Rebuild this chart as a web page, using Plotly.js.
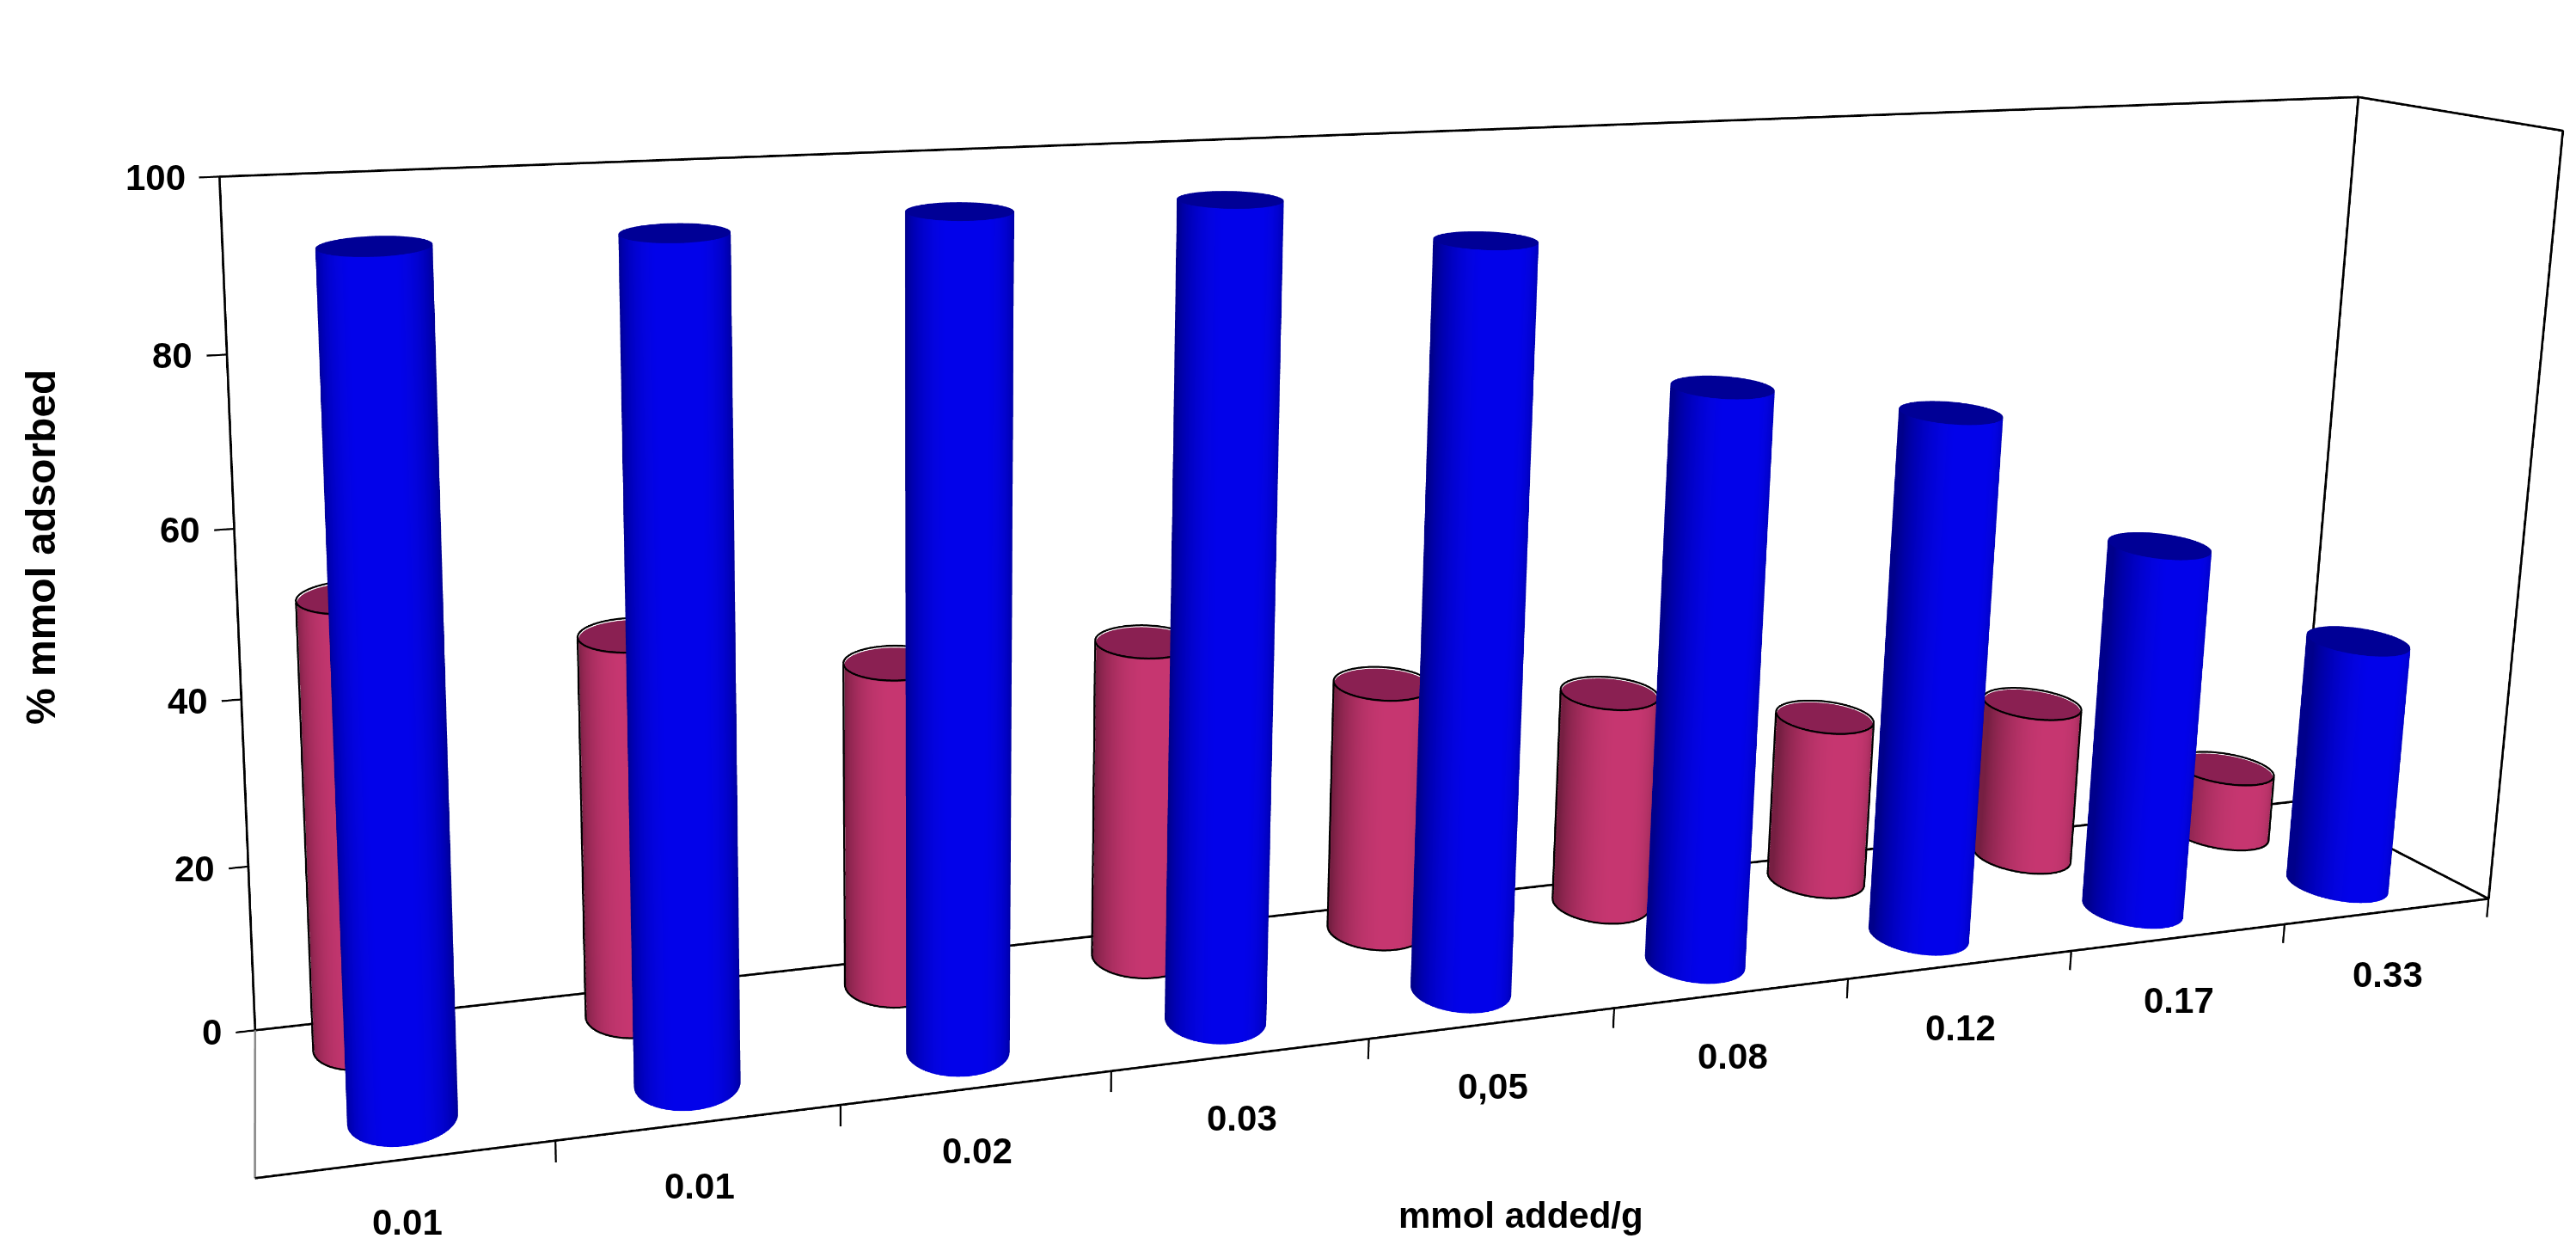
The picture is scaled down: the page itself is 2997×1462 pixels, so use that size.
<!DOCTYPE html>
<html>
<head>
<meta charset="utf-8">
<script src="https://cdn.plot.ly/plotly-3.0.1.min.js"></script>
<style>
  html, body { margin: 0; padding: 0; background: #fff; }
  #wrap { position: relative; width: 2997px; height: 1462px; overflow: hidden; }
  #plot { position: absolute; }
</style>
</head>
<body>
<div id="wrap"><div id="plot"></div></div>
<script>
// values
var categories = ['0.01', '0.01', '0.02', '0.03', '0,05', '0.08', '0.12', '0.17', '0.33'];
var backRow  = [53, 46, 40, 40, 32, 28, 22, 21, 9];    // pink cylinders (back row)
var frontRow = [96, 96, 97, 97, 91, 72, 67, 48, 33];   // blue cylinders (front row)
var zTicks = [0, 20, 40, 60, 80, 100];

var FONT = 'Liberation Sans, Arial, sans-serif';

// plotly's 3d camera has a fixed 45deg field of view, so the scene is drawn
// on a bigger div and cropped (a shifted lens): flatter, excel-like perspective.
// kept under 4096px wide / ~10Mpx, bigger canvases get clamped
var divW = 3900, divH = 2550;
var PP = {x: 1076, y: 192};          // view centre in window px
var divL = Math.round(PP.x - divW / 2), divT = Math.round(PP.y - divH / 2);
var plotDiv = document.getElementById('plot');
plotDiv.style.width = divW + 'px'; plotDiv.style.height = divH + 'px';
plotDiv.style.left = divL + 'px'; plotDiv.style.top = divT + 'px';
var FOCAL = (divH / 2) / Math.tan(Math.PI / 8);

var NSEG = 48;
var BOX = {x: [0, 9], y: [0, 1], z: [0, 100]};
var REAL = {x: 2.99, y: 0.354, z: 1.07};        // box size in scene units
var XR = [-0.12, 9.05], YR = [-0.03, 1.03], ZR = [-5, 101];
function asp(r, b, real) { return real * (r[1] - r[0]) / (b[1] - b[0]); }
function norm(v, r, b, real) { return (v - (r[0] + r[1]) / 2) * real / (b[1] - b[0]); }
var ASP = {x: asp(XR, BOX.x, REAL.x), y: asp(YR, BOX.y, REAL.y), z: asp(ZR, BOX.z, REAL.z)};

var RX = 0.19;
var RY = RX * (REAL.x / 9) / REAL.y;
var Y_BACK = 0.8, Y_FRONT = 0.26, X_BACK_SHIFT = -0.1;

// camera: yaw/pitch of the view axis, box centre placed at BOXPOS in the window
var YAW = 14 * Math.PI / 180, PITCH = 8.9 * Math.PI / 180, DIST = 3.38;
var BOXPOS = {x: 1681, y: 659};
var fwd = {x: Math.sin(YAW) * Math.cos(PITCH), y: Math.cos(YAW) * Math.cos(PITCH), z: -Math.sin(PITCH)};
var rgt = {x: Math.cos(YAW), y: -Math.sin(YAW), z: 0};
var upv = {x: Math.sin(YAW) * Math.sin(PITCH), y: Math.cos(YAW) * Math.sin(PITCH), z: Math.cos(PITCH)};
var kx = (BOXPOS.x - PP.x) / FOCAL, ky = -(BOXPOS.y - PP.y) / FOCAL;
var boxC = {x: norm(4.5, XR, BOX.x, REAL.x), y: norm(0.5, YR, BOX.y, REAL.y), z: norm(50, ZR, BOX.z, REAL.z)};
var eye = {}, camCenter = {};
['x', 'y', 'z'].forEach(function (a) {
  eye[a] = boxC[a] - DIST * (fwd[a] + kx * rgt[a] + ky * upv[a]);
  camCenter[a] = eye[a] + DIST * fwd[a];
});

function cylinders(values, yc, dx) {
  var side = {x: [], y: [], z: [], i: [], j: [], k: []};
  var cap = {x: [], y: [], z: [], i: [], j: [], k: []};
  values.forEach(function (v, c) {
    var x0 = c + 0.5 + dx;
    var b = side.x.length;
    for (var s = 0; s < NSEG; s++) {
      var t = 2 * Math.PI * s / NSEG;
      var px = x0 + RX * Math.cos(t), py = yc + RY * Math.sin(t);
      side.x.push(px, px); side.y.push(py, py); side.z.push(0, v);
    }
    for (var s = 0; s < NSEG; s++) {
      var a0 = b + 2 * s, a1 = b + 2 * ((s + 1) % NSEG);
      side.i.push(a0, a0 + 1); side.j.push(a1, a1); side.k.push(a0 + 1, a1 + 1);
    }
    var cb = cap.x.length;
    cap.x.push(x0); cap.y.push(yc); cap.z.push(v);
    for (var s = 0; s < NSEG; s++) {
      var t = 2 * Math.PI * s / NSEG;
      cap.x.push(x0 + RX * Math.cos(t)); cap.y.push(yc + RY * Math.sin(t)); cap.z.push(v);
    }
    for (var s = 0; s < NSEG; s++) {
      cap.i.push(cb); cap.j.push(cb + 1 + s); cap.k.push(cb + 1 + ((s + 1) % NSEG));
    }
  });
  return {side: side, cap: cap};
}

// black rims on the pink cylinders (top ring, base ring, two silhouettes)
function rims(values, yc, dx) {
  var L = {x: [], y: [], z: []};
  var f = 1.02;
  values.forEach(function (v, c) {
    var x0 = c + 0.5 + dx;
    [v + 0.2, 0].forEach(function (h) {
      for (var s = 0; s <= NSEG; s++) {
        var t = 2 * Math.PI * s / NSEG;
        L.x.push(x0 + f * RX * Math.cos(t)); L.y.push(yc + f * RY * Math.sin(t)); L.z.push(h);
      }
      L.x.push(null); L.y.push(null); L.z.push(null);
    });
    var nx = norm(x0, XR, BOX.x, REAL.x), ny = norm(yc, YR, BOX.y, REAL.y);
    var va = Math.atan2(ny - eye.y, nx - eye.x);
    [va + Math.PI / 2, va - Math.PI / 2].forEach(function (t) {
      var px = x0 + f * RX * Math.cos(t), py = yc + f * RY * Math.sin(t);
      L.x.push(px, px, null); L.y.push(py, py, null); L.z.push(0, v, null);
    });
  });
  return L;
}

function meshTrace(m, color, light) {
  return {
    type: 'mesh3d', x: m.x, y: m.y, z: m.z, i: m.i, j: m.j, k: m.k,
    color: color, flatshading: false, hoverinfo: 'skip', showscale: false,
    lighting: light, lightposition: {x: -60000, y: -100000, z: 30000}
  };
}

function lineTrace(L, color, width) {
  return {
    type: 'scatter3d', mode: 'lines', x: L.x, y: L.y, z: L.z,
    line: {color: color, width: width}, hoverinfo: 'skip', showlegend: false
  };
}

var sideLight = {ambient: 0.6, diffuse: 0.5, specular: 0.05, roughness: 1, fresnel: 0};
var capLight = {ambient: 1, diffuse: 0, specular: 0, roughness: 1, fresnel: 0};

var pink = cylinders(backRow, Y_BACK, X_BACK_SHIFT);
var blue = cylinders(frontRow, Y_FRONT, 0);

// walls and floor outline
var x1 = 9, y1 = 1, zt = 100;
var box = {
  x: [0, 0, x1, x1, null, x1, x1, x1, null, 0, x1, x1, x1, null, 0, x1],
  y: [y1, y1, y1, y1, null, y1, 0, 0, null, y1, y1, 0, 0, null, 0, 0],
  z: [0, zt, zt, 0, null, zt, zt, 0, null, 0, 0, 0, 0, null, 0, 0]
};
var leftEdge = {x: [0, 0], y: [0, y1], z: [0, 0]};

var ticks = {x: [], y: [], z: []};
zTicks.forEach(function (t) {
  ticks.x.push(0, -0.07, null); ticks.y.push(y1, y1, null); ticks.z.push(t, t, null);
});
for (var b = 1; b <= categories.length; b++) {
  ticks.x.push(b, b, null); ticks.y.push(0, 0, null); ticks.z.push(0, -2.5, null);
}

var data = [
  lineTrace(box, '#000', 5),
  lineTrace(leftEdge, '#8a8a8a', 5),
  lineTrace(ticks, '#000', 4),
  meshTrace(pink.side, 'rgb(196,52,110)', sideLight),
  meshTrace(pink.cap, 'rgb(138,32,82)', capLight),
  lineTrace(rims(backRow, Y_BACK, X_BACK_SHIFT), '#000', 4),
  meshTrace(blue.side, 'rgb(0,0,232)', sideLight),
  meshTrace(blue.cap, 'rgb(0,0,150)', capLight)
];

var sceneAnn = [];
zTicks.forEach(function (t) {
  sceneAnn.push({x: -0.07, y: y1, z: t, text: '<b>' + t + '</b>', showarrow: false,
    xanchor: 'right', yanchor: 'middle', xshift: -14, font: {family: FONT, size: 42, color: '#000'}});
});
categories.forEach(function (c, i) {
  sceneAnn.push({x: i + 0.5, y: 0, z: 0, text: '<b>' + c + '</b>', showarrow: false,
    xanchor: 'center', yanchor: 'top', yshift: -48, font: {family: FONT, size: 42, color: '#000'}});
});

function ax(r) {
  return {range: r, visible: false, showgrid: false, zeroline: false, showbackground: false,
    showspikes: false, autorange: false};
}

// window position -> paper fraction of the big div
function px(x) { return (x - divL) / divW; }
function py(y) { return 1 - (y - divT) / divH; }

var layout = {
  width: divW, height: divH,
  margin: {l: 0, r: 0, t: 0, b: 0},
  paper_bgcolor: '#fff',
  showlegend: false,
  scene: {
    domain: {x: [0, 1], y: [0, 1]},
    xaxis: ax(XR), yaxis: ax(YR), zaxis: ax(ZR),
    aspectmode: 'manual', aspectratio: ASP,
    camera: {eye: eye, center: camCenter, up: {x: 0, y: 0, z: 1}, projection: {type: 'perspective'}},
    dragmode: false,
    annotations: sceneAnn
  },
  annotations: [
    {xref: 'paper', yref: 'paper', x: px(47), y: py(637), text: '<b>% mmol adsorbed</b>', textangle: -90,
      showarrow: false, xanchor: 'center', yanchor: 'middle', font: {family: FONT, size: 48, color: '#000'}},
    {xref: 'paper', yref: 'paper', x: px(1769), y: py(1413), text: '<b>mmol added/g</b>',
      showarrow: false, xanchor: 'center', yanchor: 'middle', font: {family: FONT, size: 42, color: '#000'}}
  ]
};

Plotly.newPlot('plot', data, layout, {displayModeBar: false});
</script>
</body>
</html>
